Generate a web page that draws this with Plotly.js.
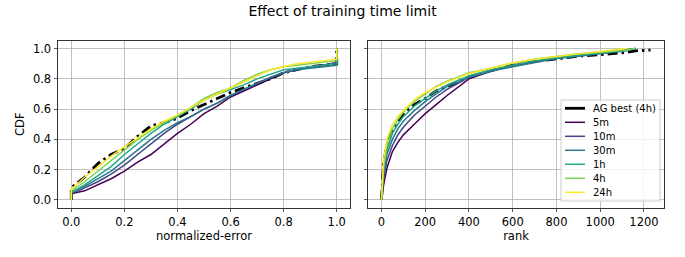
<!DOCTYPE html>
<html>
<head>
<meta charset="utf-8">
<script src="https://cdn.plot.ly/plotly-3.0.1.min.js"></script>
<style>html,body{margin:0;padding:0;background:#fff;}#chart{width:685px;height:257px;}</style>
</head>
<body>
<div id="chart"></div>
<script>
// ---------- data ----------
const seriesNames = ["AG best (4h)", "5m", "10m", "30m", "1h", "4h", "24h"];
const seriesColors = ["#000000", "#440154", "#414487", "#2a788e", "#22a884", "#7ad151", "#fde725"];

// left panel: normalized-error
const errX = [0, 0, 0.05, 0.1, 0.15, 0.2, 0.25, 0.3, 0.35, 0.4, 0.45, 0.5, 0.55, 0.6, 0.65, 0.7, 0.75, 0.8, 0.85, 0.9, 0.95, 1.0, 1.0];
const errAG   = [0, 0.08, 0.15, 0.24, 0.30, 0.34, 0.42, 0.49, 0.51, 0.54, 0.59, 0.63, 0.67, 0.71, 0.74, 0.77, 0.80, 0.84, 0.86, 0.88, 0.89, 0.90, 1.0];
const err5m   = [0, 0.04, 0.06, 0.10, 0.14, 0.19, 0.25, 0.30, 0.37, 0.44, 0.50, 0.57, 0.62, 0.68, 0.72, 0.76, 0.80, 0.84, 0.86, 0.88, 0.89, 0.90, 1.0];
const err10m  = [0, 0.04, 0.08, 0.12, 0.17, 0.23, 0.30, 0.37, 0.44, 0.50, 0.55, 0.60, 0.64, 0.69, 0.73, 0.77, 0.81, 0.84, 0.86, 0.88, 0.89, 0.91, 1.0];
const err30m  = [0, 0.05, 0.09, 0.14, 0.19, 0.26, 0.33, 0.40, 0.46, 0.51, 0.55, 0.60, 0.64, 0.69, 0.73, 0.77, 0.81, 0.84, 0.86, 0.87, 0.88, 0.89, 1.0];
const err1h   = [0, 0.05, 0.10, 0.16, 0.22, 0.30, 0.37, 0.44, 0.50, 0.55, 0.60, 0.66, 0.70, 0.73, 0.76, 0.80, 0.83, 0.86, 0.87, 0.88, 0.89, 0.90, 1.0];
const err4h   = [0, 0.06, 0.12, 0.19, 0.26, 0.33, 0.40, 0.46, 0.51, 0.56, 0.61, 0.67, 0.71, 0.74, 0.79, 0.83, 0.86, 0.88, 0.89, 0.90, 0.91, 0.92, 1.0];
const err24h  = [0, 0.07, 0.15, 0.22, 0.29, 0.35, 0.41, 0.47, 0.52, 0.56, 0.61, 0.66, 0.70, 0.74, 0.78, 0.82, 0.86, 0.88, 0.90, 0.91, 0.92, 0.93, 1.0];

// right panel: rank
const rankX = [0, 10, 25, 50, 75, 100, 150, 200, 250, 300, 400, 500, 600, 700, 800, 900, 1000, 1120, 1160, 1230];
const rankAG  = [0, 0.25, 0.36, 0.46, 0.52, 0.57, 0.63, 0.67, 0.72, 0.75, 0.81, 0.855, 0.89, 0.915, 0.935, 0.95, 0.96, 0.975, 0.985, 0.99];
const rank5m  = [0, 0.10, 0.21, 0.32, 0.38, 0.43, 0.50, 0.57, 0.63, 0.69, 0.80, 0.85, 0.89, 0.915, 0.94, 0.955, 0.97, 0.99, 1.0, null];
const rank10m = [0, 0.14, 0.26, 0.36, 0.43, 0.48, 0.56, 0.62, 0.68, 0.73, 0.81, 0.85, 0.89, 0.915, 0.94, 0.955, 0.97, 0.99, 1.0, null];
const rank30m = [0, 0.17, 0.30, 0.40, 0.47, 0.52, 0.59, 0.65, 0.70, 0.75, 0.81, 0.85, 0.88, 0.91, 0.935, 0.95, 0.965, 0.985, 1.0, null];
const rank1h  = [0, 0.20, 0.33, 0.44, 0.50, 0.55, 0.62, 0.67, 0.72, 0.76, 0.82, 0.86, 0.89, 0.92, 0.94, 0.955, 0.97, 0.99, 1.0, null];
const rank4h  = [0, 0.22, 0.36, 0.47, 0.53, 0.58, 0.65, 0.70, 0.75, 0.785, 0.84, 0.87, 0.905, 0.93, 0.95, 0.965, 0.975, 0.99, 1.0, null];
const rank24h = [0, 0.27, 0.40, 0.50, 0.55, 0.59, 0.66, 0.71, 0.745, 0.78, 0.835, 0.87, 0.905, 0.93, 0.95, 0.965, 0.98, 1.0, null, null];

const yTicks = [0.0, 0.2, 0.4, 0.6, 0.8, 1.0];
const yTickText = ["0.0", "0.2", "0.4", "0.6", "0.8", "1.0"];
const errTicks = [0.0, 0.2, 0.4, 0.6, 0.8, 1.0];
const errTickText = ["0.0", "0.2", "0.4", "0.6", "0.8", "1.0"];
const rankTicks = [0, 200, 400, 600, 800, 1000, 1200];

// ---------- traces ----------
const W = 685, H = 257;
const FONT = "DejaVu Sans";
const errY = [errAG, err5m, err10m, err30m, err1h, err4h, err24h];
const rankY = [rankAG, rank5m, rank10m, rank30m, rank1h, rank4h, rank24h];
const agLine = {color: "#000000", width: 2.8, dash: "10px,4px,2.5px,4px"};
const traces = [];
for (let i = 0; i < seriesNames.length; i++) {
  const line = i === 0 ? agLine : {color: seriesColors[i], width: 1.5};
  traces.push({x: errX, y: errY[i], xaxis: "x", yaxis: "y", mode: "lines", name: seriesNames[i], line: line, showlegend: false});
  traces.push({x: rankX, y: rankY[i], xaxis: "x2", yaxis: "y2", mode: "lines", name: seriesNames[i], line: line, showlegend: false});
}

// ---------- manual legend (matplotlib-like spacing) ----------
const px = v => v / W, py = v => 1 - v / H;
const shapes = [{
  type: "rect", xref: "paper", yref: "paper", layer: "above",
  x0: px(561), x1: px(660), y0: py(201), y1: py(100),
  fillcolor: "rgba(255,255,255,0.8)", line: {color: "#cccccc", width: 1}
}];
const annotations = [];
for (let i = 0; i < seriesNames.length; i++) {
  const cy = 108.3 + 14 * i;
  shapes.push({type: "line", xref: "paper", yref: "paper", layer: "above",
    x0: px(565), x1: px(585), y0: py(cy), y1: py(cy),
    line: {color: seriesColors[i], width: i === 0 ? 2.8 : 1.5}});
  annotations.push({xref: "paper", yref: "paper", x: px(591), y: py(cy), xanchor: "left", yanchor: "middle",
    text: seriesNames[i], showarrow: false, font: {family: FONT, size: 10, color: "#000"}});
}

const axCommon = {
  showline: true, mirror: true, linecolor: "#333", linewidth: 1,
  ticks: "outside", ticklen: 3.5, tickwidth: 0.8, tickcolor: "#333",
  showgrid: true, gridcolor: "#b0b0b0", gridwidth: 0.8, zeroline: false,
  tickfont: {family: FONT, size: 11.5, color: "#000"}
};
const plotDomainY = [1 - 207.5 / H, 1 - 41 / H];

const layout = {
  width: W, height: H,
  margin: {l: 0, r: 0, t: 0, b: 0},
  paper_bgcolor: "#fff", plot_bgcolor: "#fff",
  font: {family: FONT, size: 11.5, color: "#000"},
  title: {text: "Effect of training time limit", font: {family: FONT, size: 14, color: "#000"}, x: 0.5, xanchor: "center", y: 1 - 11.5 / H, yanchor: "middle"},
  showlegend: false,
  xaxis: Object.assign({}, axCommon, {domain: [58 / W, 350 / W], range: [-0.05, 1.05], tickvals: errTicks, ticktext: errTickText, anchor: "y",
    title: {text: "normalized-error", font: {family: FONT, size: 11.5, color: "#000"}, standoff: 2}}),
  yaxis: Object.assign({}, axCommon, {domain: plotDomainY, range: [-0.05, 1.05], tickvals: yTicks, ticktext: yTickText, anchor: "x",
    title: {text: "CDF", font: {family: FONT, size: 11.5, color: "#000"}, standoff: 5}}),
  xaxis2: Object.assign({}, axCommon, {domain: [368 / W, 664 / W], range: [-61.5, 1291.5], tickvals: rankTicks, anchor: "y2",
    title: {text: "rank", font: {family: FONT, size: 11.5, color: "#000"}, standoff: 2}}),
  yaxis2: Object.assign({}, axCommon, {domain: plotDomainY, range: [-0.05, 1.05], tickvals: yTicks, showticklabels: false, anchor: "x2"}),
  shapes: shapes,
  annotations: annotations
};

Plotly.newPlot("chart", traces, layout, {staticPlot: true, displayModeBar: false});
</script>
</body>
</html>
